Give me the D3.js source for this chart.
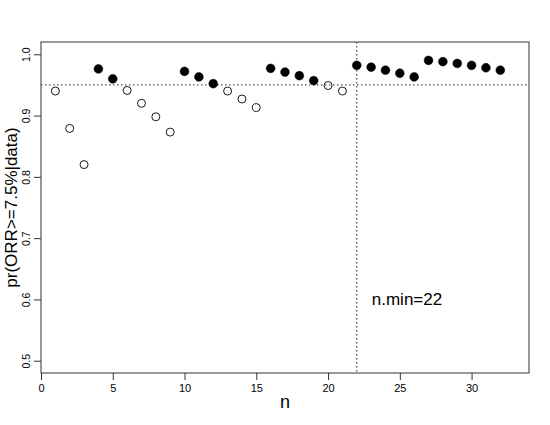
<!DOCTYPE html>
<html>
<head>
<meta charset="utf-8">
<script src="https://cdn.jsdelivr.net/npm/d3@7"></script>
<style>
  body { margin: 0; background: #fff; }
  svg { display: block; font-family: "Liberation Sans", Arial, Helvetica, sans-serif; }
</style>
</head>
<body>
<svg id="chart" width="550" height="425"></svg>
<script>
// sample sizes n and posterior probability pr(ORR>=7.5%|data)
const nValues = [1, 2, 3, 4, 5, 6, 7, 8, 9, 10, 11, 12, 13, 14, 15, 16,
  17, 18, 19, 20, 21, 22, 23, 24, 25, 26, 27, 28, 29, 30, 31, 32];
const probValues = [0.940, 0.879, 0.820, 0.976, 0.960, 0.941, 0.920, 0.898,
  0.873, 0.972, 0.963, 0.952, 0.940, 0.927, 0.913, 0.977,
  0.971, 0.965, 0.957, 0.949, 0.940, 0.982, 0.979, 0.974,
  0.969, 0.963, 0.990, 0.988, 0.985, 0.982, 0.978, 0.974];
const xTicks = [0, 5, 10, 15, 20, 25, 30];
const yTicks = [0.5, 0.6, 0.7, 0.8, 0.9, 1.0];
const threshold = 0.95;
const nMin = 22;

const svg = d3.select("#chart"),
  margin = {top: 42, right: 21, bottom: 52, left: 41},
  width = +svg.attr("width"),
  height = +svg.attr("height"),
  plotW = width - margin.left - margin.right,
  plotH = height - margin.top - margin.bottom;

const x = d3.scaleLinear().domain([0, 34]).range([0, plotW]);
const y = d3.scaleLinear().domain([0.48, 1.02]).range([plotH, 0]);

const g = svg.append("g")
  .attr("transform", "translate(" + margin.left + "," + margin.top + ")");

// reference lines
g.append("line")
  .attr("x1", 0).attr("x2", plotW)
  .attr("y1", y(threshold)).attr("y2", y(threshold))
  .attr("stroke", "#222").attr("stroke-dasharray", "1.5,2.5");

g.append("line")
  .attr("x1", x(nMin)).attr("x2", x(nMin))
  .attr("y1", 0).attr("y2", plotH)
  .attr("stroke", "#222").attr("stroke-dasharray", "1.5,2.5");

// points
const data = nValues.map(function (n, i) {
  return {n: n, p: probValues[i]};
});

g.selectAll("circle.dot")
  .data(data)
  .enter().append("circle")
  .attr("class", "dot")
  .attr("cx", function (d) { return x(d.n); })
  .attr("cy", function (d) { return y(d.p); })
  .attr("r", function (d) { return d.p >= threshold ? 4.4 : 4; })
  .attr("fill", function (d) { return d.p >= threshold ? "#000" : "none"; })
  .attr("stroke", "#000")
  .attr("stroke-width", function (d) { return d.p >= threshold ? 0.5 : 0.9; });

// axes
const xAxis = g.append("g")
  .attr("transform", "translate(0," + plotH + ")")
  .call(d3.axisBottom(x).tickValues(xTicks).tickSize(7).tickPadding(4));

const yAxis = g.append("g")
  .call(d3.axisLeft(y).tickValues(yTicks).tickFormat(d3.format(".1f")).tickSize(7));

[xAxis, yAxis].forEach(function (ax) {
  ax.select(".domain").remove();
  ax.selectAll("line").attr("stroke", "#333");
  ax.selectAll("text").attr("font-size", 11).attr("fill", "#000")
    .attr("font-family", "Liberation Sans, Arial, sans-serif");
});

yAxis.selectAll("text")
  .attr("x", 0).attr("dy", 0)
  .attr("font-size", 10.5)
  .attr("text-anchor", "middle")
  .attr("transform", "translate(-11,0) rotate(-90)");

// box
g.append("rect")
  .attr("width", plotW).attr("height", plotH)
  .attr("fill", "none").attr("stroke", "#333").attr("stroke-width", 1);

// labels
g.append("text")
  .attr("x", plotW / 2).attr("y", plotH + 35)
  .attr("text-anchor", "middle").attr("font-size", 18)
  .text("n");

svg.append("text")
  .attr("transform", "translate(17," + (margin.top + plotH / 2) + ") rotate(-90)")
  .attr("text-anchor", "middle").attr("font-size", 17)
  .text("pr(ORR>=7.5%|data)");

g.append("text")
  .attr("x", x(25.5)).attr("y", y(0.6) + 6)
  .attr("text-anchor", "middle").attr("font-size", 17)
  .text("n.min=" + nMin);
</script>
</body>
</html>
